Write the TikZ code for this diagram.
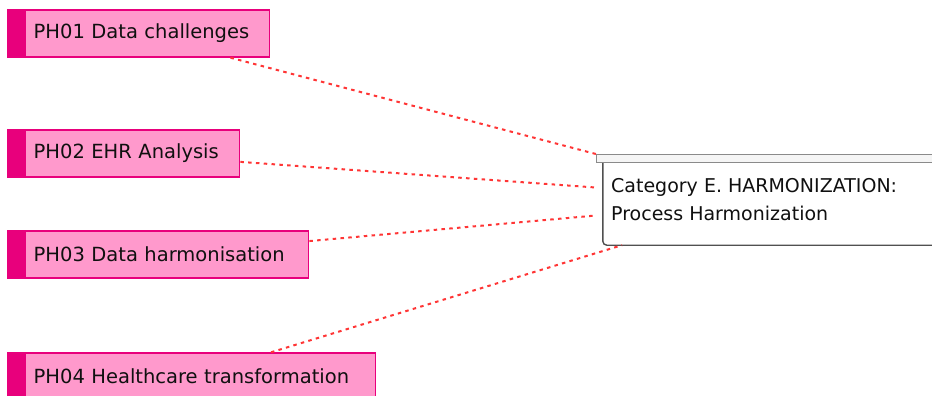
\documentclass[tikz,border=0pt]{standalone}
\usepackage{fontspec}
\setmainfont{DejaVu Sans}
\begin{document}
\definecolor{phfill}{HTML}{FF99CC}
\definecolor{phedge}{HTML}{E8007C}
\definecolor{linkred}{HTML}{FF3535}
\definecolor{inkdark}{HTML}{101010}
\definecolor{catedge}{HTML}{505050}
\definecolor{baredge}{HTML}{8A8A8A}
\begin{tikzpicture}[x=1pt,y=-1pt,
  phbox/.style={draw=phedge, fill=phfill, line width=1.4pt, inner sep=0pt,
    minimum height=47pt, anchor=west, align=left, text=inkdark,
    font=\fontsize{19.5}{24}\selectfont},
  strip/.style={fill=phedge},
  link/.style={draw=linkred, line width=2pt, dash pattern=on 3.5pt off 4.3pt},
  catbody/.style={draw=catedge, fill=white, line width=1.4pt, rounded corners=4pt},
  catbar/.style={draw=baredge, fill=white!96!black, line width=1pt},
  cattext/.style={inner sep=0pt, anchor=base west, text=inkdark,
    font=\fontsize{19}{28}\selectfont, align=left}]
  \useasboundingbox (0,0) rectangle (932,396);

  % source boxes
  \node[phbox, text width=262pt, minimum width=262pt] (p1) at (7,33.5) {\hspace*{26pt}PH01 Data challenges};
  \node[phbox, text width=232pt, minimum width=232pt] (p2) at (7,153.5) {\hspace*{26pt}PH02 EHR Analysis};
  \node[phbox, text width=301pt, minimum width=301pt] (p3) at (7,254.5) {\hspace*{26pt}PH03 Data harmonisation};
  \node[phbox, text width=368pt, minimum width=368pt] (p4) at (7,376.5) {\hspace*{26pt}PH04 Healthcare transformation};
  \foreach \n in {p1,p2,p3,p4}
    \fill[strip] ([xshift=0.7pt,yshift=-0.7pt]\n.north west) rectangle ([xshift=19pt,yshift=0.7pt]\n.south west);

  % category box (outer frame used for connector ends)
  \node[minimum width=346pt, minimum height=90pt, inner sep=0pt] (cat) at (770,200) {};
  \draw[catbody] ([xshift=6pt,yshift=-4pt]cat.north west) rectangle (cat.south east);
  \draw[catbar] (cat.north west) rectangle ([yshift=-8pt]cat.north east);
  \node[cattext] (cattxt) at (611,220) {Category E. HARMONIZATION:\\Process Harmonization};

  % connectors
  \foreach \n in {p1,p2,p3,p4}
    \draw[link] (\n) -- (cat);
\end{tikzpicture}
\end{document}
